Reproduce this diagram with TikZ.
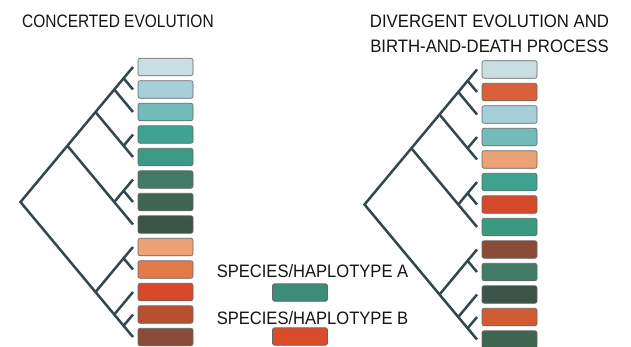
\documentclass[tikz,border=0pt]{standalone}
\usepackage{fontspec}
\setmainfont{Liberation Sans}
\newfontfamily\titlefont[FakeStretch=0.86]{Liberation Sans}
\newfontfamily\rtitlefont[FakeStretch=0.93]{Liberation Sans}
\newfontfamily\legfont[FakeStretch=0.92]{Liberation Sans}
\definecolor{treeline}{HTML}{34474F}
\definecolor{txt}{HTML}{141414}
\definecolor{ca1}{HTML}{C8DEE2}
\definecolor{ca2}{HTML}{A6CFD9}
\definecolor{ca3}{HTML}{74BCBC}
\definecolor{ca4}{HTML}{3FA392}
\definecolor{ca5}{HTML}{3A9A86}
\definecolor{ca6}{HTML}{427A68}
\definecolor{ca7}{HTML}{3F6650}
\definecolor{ca8}{HTML}{3B5447}
\definecolor{ca9}{HTML}{EDA275}
\definecolor{ca10}{HTML}{E37A4A}
\definecolor{ca11}{HTML}{D6492A}
\definecolor{ca12}{HTML}{B8502F}
\definecolor{ca13}{HTML}{8A4B39}
\definecolor{cb1}{HTML}{C8DEE2}
\definecolor{cb2}{HTML}{D9603A}
\definecolor{cb3}{HTML}{A6CFD9}
\definecolor{cb4}{HTML}{74BCBC}
\definecolor{cb5}{HTML}{EDA275}
\definecolor{cb6}{HTML}{3FA392}
\definecolor{cb7}{HTML}{D6492A}
\definecolor{cb8}{HTML}{3A9A80}
\definecolor{cb9}{HTML}{8A4B39}
\definecolor{cb10}{HTML}{427A68}
\definecolor{cb11}{HTML}{3B5447}
\definecolor{cb12}{HTML}{D05A32}
\definecolor{cb13}{HTML}{3F6650}
\definecolor{legA}{HTML}{3C8C78}
\definecolor{legB}{HTML}{D84C2A}
\tikzset{
  colbox/.style={draw=black!60, line width=0.6pt, rounded corners=2pt,
    minimum width=55pt, minimum height=17.5pt, inner sep=0pt},
  branch/.style={draw=treeline, line width=2.5pt, line cap=butt, line join=miter},
  label/.style={text=txt, inner sep=0pt, anchor=base},
}
\newcommand\myclade[2]{%
  % #1 = name prefix, #2 = colour prefix
  \foreach \i in {1,...,13}{
    \coordinate (#1t\i) at (133,{67+22.5*(\i-1)});
    \node[colbox, fill=#2\i] (#1box\i) at (165.5,{67+22.5*(\i-1)}) {};
  }
  \coordinate (#1r)  at (20.5,202);
  \coordinate (#1a)  at (67.4,145.75);
  \coordinate (#1b)  at (95.5,112);
  \coordinate (#1c)  at (114.25,89.5);
  \coordinate (#1cc) at (123.6,78.25);
  \coordinate (#1f)  at (123.6,145.75);
  \coordinate (#1d)  at (114.25,202);
  \coordinate (#1dd) at (123.6,190.75);
  \coordinate (#1e)  at (95.5,292);
  \coordinate (#1ee) at (123.6,258.25);
  \coordinate (#1g)  at (114.25,314.5);
  \coordinate (#1gg) at (123.6,325.75);
  \draw[branch] (#1t1) -- (#1r) -- (#1t13);
  \draw[branch] (#1cc) -- (#1t2);
  \draw[branch] (#1c) -- (#1t3);
  \draw[branch] (#1b) -- (#1f) -- (#1t5);
  \draw[branch] (#1f) -- (#1t4);
  \draw[branch] (#1a) -- (#1d) -- (#1t8);
  \draw[branch] (#1d) -- (#1dd) -- (#1t6);
  \draw[branch] (#1dd) -- (#1t7);
  \draw[branch] (#1e) -- (#1ee) -- (#1t9);
  \draw[branch] (#1ee) -- (#1t10);
  \draw[branch] (#1g) -- (#1t11);
  \draw[branch] (#1gg) -- (#1t12);
}
\begin{document}
\begin{tikzpicture}[x=1pt,y=-1pt]
\useasboundingbox (0,0) rectangle (631,346);
\fill[white] (0,0) rectangle (631,346);
% titles
\node[label, anchor=base west, font=\titlefont\fontsize{18}{20}\selectfont] (titleA) at (22,27.5) {CONCERTED EVOLUTION};
\node[label, font=\rtitlefont\fontsize{18}{20}\selectfont] (titleB1) at (489.5,27.5) {DIVERGENT EVOLUTION AND};
\node[label, font=\rtitlefont\fontsize{18}{20}\selectfont] (titleB2) at (489.5,52.5) {BIRTH-AND-DEATH PROCESS};
% trees
\myclade{l}{ca}
\begin{scope}[shift={(344,2.5)}]
\myclade{r}{cb}
\end{scope}
% legend
\node[label, font=\legfont\fontsize{18}{20}\selectfont] (legtextA) at (312.5,277.5) {SPECIES/HAPLOTYPE A};
\node[colbox, fill=legA] (legboxA) at (300,292.5) {};
\node[label, font=\legfont\fontsize{18}{20}\selectfont] (legtextB) at (312.5,324.5) {SPECIES/HAPLOTYPE B};
\node[colbox, fill=legB] (legboxB) at (300,336.5) {};
\end{tikzpicture}
\end{document}
